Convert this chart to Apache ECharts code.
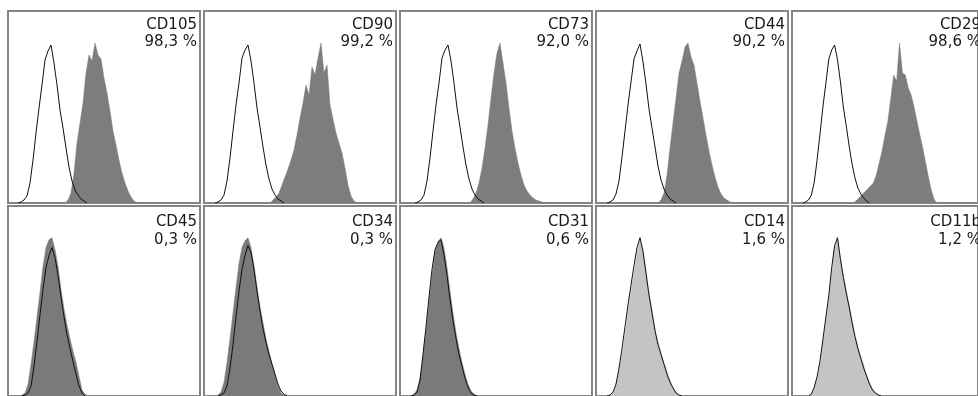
<!DOCTYPE html>
<html>
<head>
<meta charset="utf-8">
<script src="https://cdn.jsdelivr.net/npm/echarts@6/dist/echarts.min.js"></script>
<style>
  html, body { margin: 0; padding: 0; background: #fff; }
  #chart { width: 978px; height: 396px; }
</style>
</head>
<body>
<div id="chart"></div>
<script>
// marker names and % positive shown in each panel
const markers = ['CD105', 'CD90', 'CD73', 'CD44', 'CD29', 'CD45', 'CD34', 'CD31', 'CD14', 'CD11b'];
const positives = ['98,3 %', '99,2 %', '92,0 %', '90,2 %', '98,6 %', '0,3 %', '0,3 %', '0,6 %', '1,6 %', '1,2 %'];

// histogram bins are 3 channels wide, first channel of each series below
const binWidth = 3;
const stainedStart = [57, 66, 70, 62, 63, 11, 11, 11, 11, 17];
const isotypeStart = [10, 11, 15, 11, 11, 14, 14, 11, 11, 17];

// stained sample counts (filled)
const cd105 = [0, 3, 10, 30, 60, 80, 100, 130, 148, 142, 160, 148, 144, 125, 110, 92, 72, 58, 43, 30, 20, 12, 6, 2, 0];
const cd90 = [0, 3, 6, 10, 18, 26, 34, 43, 53, 68, 85, 100, 118, 108, 136, 128, 145, 160, 130, 138, 98, 84, 70, 60, 50, 35, 18, 7, 2, 0];
const cd73 = [0, 4, 10, 20, 35, 55, 78, 105, 130, 150, 160, 140, 120, 95, 72, 55, 40, 28, 18, 12, 8, 5, 3, 2, 1, 0];
const cd44 = [0, 3, 10, 28, 55, 80, 105, 130, 142, 156, 160, 146, 138, 120, 102, 85, 68, 52, 38, 26, 16, 9, 5, 3, 1, 0];
const cd29 = [0, 2, 5, 8, 11, 14, 17, 20, 28, 40, 52, 68, 82, 105, 128, 122, 160, 130, 128, 115, 108, 96, 82, 68, 55, 40, 25, 12, 3, 0];
const cd45 = [0, 1, 3, 12, 32, 55, 80, 105, 131, 150, 158, 160, 148, 131, 108, 88, 72, 58, 45, 34, 20, 6, 2, 0];
const cd34 = [0, 1, 4, 14, 34, 58, 84, 110, 134, 150, 157, 160, 150, 132, 110, 90, 74, 58, 45, 33, 22, 10, 3, 1, 0];
const cd31 = [0, 2, 6, 18, 40, 66, 94, 122, 145, 156, 160, 150, 130, 106, 84, 64, 48, 34, 22, 12, 5, 2, 0];
const cd14 = [0, 1, 3, 10, 25, 42, 62, 85, 105, 125, 145, 158, 148, 128, 105, 88, 68, 55, 44, 34, 25, 16, 9, 4, 1, 0];
const cd11b = [0, 2, 8, 18, 32, 55, 75, 98, 125, 150, 158, 140, 122, 108, 92, 78, 62, 50, 40, 32, 22, 14, 8, 4, 2, 0];

// isotype control counts (outline)
const cd105Iso = [0, 1, 3, 7, 20, 43, 70, 95, 118, 143, 152, 158, 140, 118, 93, 75, 55, 36, 22, 13, 8, 4, 2, 0];
const cd90Iso = [0, 1, 3, 8, 22, 45, 72, 98, 120, 145, 153, 158, 142, 120, 95, 76, 56, 38, 24, 14, 8, 4, 2, 0];
const cd73Iso = [0, 1, 3, 8, 22, 45, 72, 98, 120, 145, 153, 158, 142, 120, 95, 76, 56, 38, 24, 14, 8, 4, 2, 0];
const cd44Iso = [0, 1, 3, 9, 22, 46, 72, 98, 121, 144, 152, 159, 141, 119, 94, 75, 56, 37, 23, 14, 8, 4, 2, 0];
const cd29Iso = [0, 1, 3, 8, 21, 44, 70, 97, 120, 144, 153, 158, 143, 121, 96, 77, 57, 39, 25, 15, 9, 5, 2, 0];
const cd45Iso = [0, 1, 3, 10, 30, 55, 82, 108, 130, 142, 150, 140, 122, 100, 80, 62, 48, 35, 22, 10, 3, 0];
const cd34Iso = [0, 1, 3, 10, 28, 52, 80, 106, 128, 142, 152, 145, 128, 106, 86, 68, 54, 42, 32, 22, 12, 5, 2, 0];
const cd31Iso = [0, 1, 4, 16, 42, 70, 100, 128, 148, 155, 158, 142, 122, 98, 76, 58, 42, 30, 18, 9, 3, 1, 0];
const cd14Iso = [0, 1, 4, 12, 28, 48, 70, 92, 112, 132, 150, 160, 146, 124, 102, 84, 66, 52, 42, 32, 22, 14, 8, 3, 1, 0];
const cd11bIso = [0, 2, 9, 20, 36, 58, 80, 102, 130, 152, 160, 138, 120, 104, 90, 74, 60, 48, 38, 28, 20, 12, 6, 3, 1, 0];

const stained = [cd105, cd90, cd73, cd44, cd29, cd45, cd34, cd31, cd14, cd11b];
const isotype = [cd105Iso, cd90Iso, cd73Iso, cd44Iso, cd29Iso, cd45Iso, cd34Iso, cd31Iso, cd14Iso, cd11bIso];

const panelSize = 192;
const panelStep = 196;
const rowTops = [11, 206];
const fillColors = ['#7d7d7d', '#7d7d7d', '#7d7d7d', '#7d7d7d', '#7d7d7d',
  '#7a7a7a', '#7a7a7a', '#7a7a7a', '#c4c4c4', '#c4c4c4'];

const toPoints = (counts, start) => counts.map((v, i) => [start + i * binWidth, v]);

const grid = [], xAxis = [], yAxis = [], series = [], graphic = [];

markers.forEach((name, i) => {
  const row = Math.floor(i / 5);
  const left = 8 + (i % 5) * panelStep;
  const top = rowTops[row];

  grid.push({
    left, top, width: panelSize, height: panelSize,
    show: true, borderColor: '#858585', borderWidth: 2, backgroundColor: '#fff'
  });
  xAxis.push({ gridIndex: i, type: 'value', min: 0, max: panelSize, show: false });
  yAxis.push({ gridIndex: i, type: 'value', min: 0, max: panelSize, show: false });

  series.push({
    type: 'line', xAxisIndex: i, yAxisIndex: i,
    data: toPoints(stained[i], stainedStart[i]),
    showSymbol: false, silent: true,
    lineStyle: { color: fillColors[i], width: 0.5 },
    areaStyle: { color: fillColors[i], opacity: 1 }
  });
  series.push({
    type: 'line', xAxisIndex: i, yAxisIndex: i,
    data: toPoints(isotype[i], isotypeStart[i]),
    showSymbol: false, silent: true,
    lineStyle: { color: '#111', width: 1 }
  });

  // label offsets differ a little between the rows
  const off = row === 0 ? [14, 31] : [16, 34];
  [name, positives[i]].forEach((t, k) => {
    graphic.push({
      type: 'text', x: left + panelSize - 3, y: top + off[k], z: 10,
      style: {
        text: t, fill: '#1a1a1a', font: '15px "DejaVu Sans"',
        align: 'right', verticalAlign: 'middle'
      }
    });
  });
});

const chart = echarts.init(document.getElementById('chart'));
chart.setOption({
  backgroundColor: '#fff',
  animation: false,
  grid, xAxis, yAxis, series, graphic
});
</script>
</body>
</html>
